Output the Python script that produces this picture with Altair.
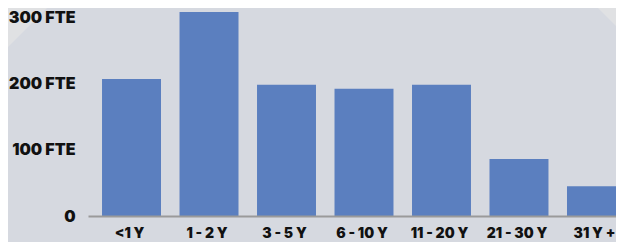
import altair as alt
import pandas as pd

categories = ["<1 Y", "1 - 2 Y", "3 - 5 Y", "6 - 10 Y", "11 - 20 Y", "21 - 30 Y", "31 Y +"]
fte = [207, 308, 198, 192, 198, 86, 45]
y_ticks = [0, 100, 200, 300]

BG = "#d6d9e0"
BAR = "#5b7fbf"
TRI = "#e0e1e3"
FONT = "Inter"

df = pd.DataFrame({"cat": categories, "fte": fte})
deco = pd.DataFrame({"k": [0]})

x_enc = alt.X("cat:N", sort=categories, title=None,
              scale=alt.Scale(range=[0, 552], paddingInner=0.239, paddingOuter=0.181),
              axis=alt.Axis(labelAngle=0, ticks=False, tickSize=0, domainColor="#9a9a9a",
                            domainWidth=2, labelFont=FONT, labelFontSize=14,
                            labelFontWeight=900, labelColor="#111111", labelPadding=10,
                            labelOffset=-2, grid=False, zindex=1))
y_enc = alt.Y("fte:Q", title=None,
              scale=alt.Scale(domain=[0, 314], nice=False),
              axis=alt.Axis(values=y_ticks, ticks=False, tickSize=0, domain=False, grid=False,
                            labelFont=FONT, labelFontSize=16, labelFontWeight=900,
                            labelColor="#111111", labelPadding=13,
                            labelExpr="datum.value == 0 ? '0' : datum.value + ' FTE'",
                            zindex=1))

bars = alt.Chart(df).mark_bar(color=BAR).encode(x=x_enc, y=y_enc)

tri_left = alt.Chart(deco).mark_square(color=TRI, opacity=1, angle=45, size=6050).encode(
    x=alt.value(-88), y=alt.value(-8))
tri_right = alt.Chart(deco).mark_square(color=TRI, opacity=1, angle=45, size=2312).encode(
    x=alt.value(536), y=alt.value(-8))

chart = alt.layer(tri_left, tri_right, bars).properties(
    width=528, height=208,
    autosize=alt.AutoSizeParams(type="none"),
    padding={"left": 80, "top": 0, "right": 0, "bottom": 26},
    background=BG,
).configure_view(stroke=None)

chart.save("out.html", embed_options={"renderer": "svg", "actions": False})
